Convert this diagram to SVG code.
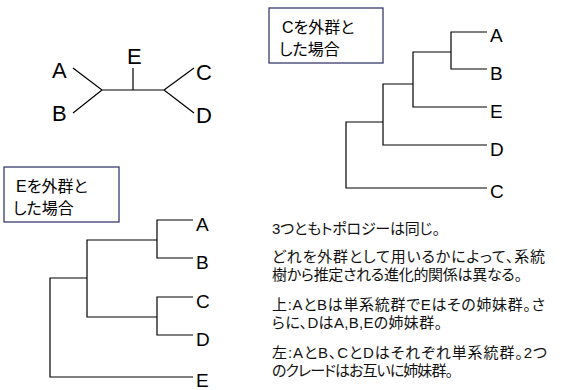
<svg xmlns="http://www.w3.org/2000/svg" width="566" height="390" viewBox="0 0 566 390">
<style>
.ln{stroke:#000;stroke-width:1.2;fill:none}
.lb{font-family:"Liberation Sans",Arial,sans-serif;fill:#000}
.big{font-size:22px}
.med{font-size:19px}
.box{fill:#fff;stroke:#3a3a6e;stroke-width:1.3}
.bt{font-family:"Liberation Sans","Noto Sans CJK JP",sans-serif;font-size:16px;fill:#000;font-feature-settings:"palt"}
.tx{font-family:"Liberation Sans","Noto Sans CJK JP",sans-serif;font-size:15px;fill:#111;font-feature-settings:"palt"}
</style>
<rect width="566" height="390" fill="#fff"/>
<g id="connectors">
<path class="ln" d="M73,68 L102,90 L73,113 M102,90 H164 M133,68 V90 M194,68 L164,90 L194,113"/>
<path class="ln" d="M487,32 H451 V69 H487 M451,52 H413 V107 H487 M413,84 H383 V145 H487 M383,122 H346 V188 H487"/>
<path class="ln" d="M193,220 H157 V258 H193 M193,297 H157 V335 H193 M157,240 H87 V317 H157 M87,278 H50 V377 H193"/>
</g>
<g id="unrooted-labels">
<text class="lb big" x="52" y="78">A</text>
<text class="lb big" x="52" y="121">B</text>
<text class="lb big" x="127" y="64">E</text>
<text class="lb big" x="196" y="80">C</text>
<text class="lb big" x="196" y="123">D</text>
</g>
<g id="box-c">
<rect class="box" x="269" y="8" width="114" height="55"/>
<text class="bt"><tspan x="282" y="33">Cを外群と</tspan><tspan x="279" y="55">した場合</tspan></text>
</g>
<g id="tree-c-labels">
<text class="lb med" x="490" y="42">A</text>
<text class="lb med" x="490" y="80">B</text>
<text class="lb med" x="490" y="118">E</text>
<text class="lb med" x="490" y="156">D</text>
<text class="lb med" x="490" y="198">C</text>
</g>
<g id="box-e">
<rect class="box" x="4" y="167" width="115" height="55"/>
<text class="bt"><tspan x="16" y="192">Eを外群と</tspan><tspan x="13" y="214">した場合</tspan></text>
</g>
<g id="tree-e-labels">
<text class="lb med" x="196" y="231">A</text>
<text class="lb med" x="196" y="269">B</text>
<text class="lb med" x="196" y="308">C</text>
<text class="lb med" x="196" y="346">D</text>
<text class="lb med" x="196" y="387">E</text>
</g>
<g id="notes">
<text class="tx" x="272" y="234" textLength="168" lengthAdjust="spacing">3つともトポロジーは同じ。</text>
<text class="tx"><tspan x="272" y="262" textLength="273" lengthAdjust="spacing">どれを外群として用いるかによって、系統</tspan><tspan x="272" y="280" textLength="250" lengthAdjust="spacing">樹から推定される進化的関係は異なる。</tspan></text>
<text class="tx"><tspan x="272" y="310" textLength="273" lengthAdjust="spacing">上:AとBは単系統群でEはその姉妹群。さ</tspan><tspan x="272" y="328" textLength="170" lengthAdjust="spacing">らに、DはA,B,Eの姉妹群。</tspan></text>
<text class="tx"><tspan x="272" y="358" textLength="275" lengthAdjust="spacing">左:AとB、CとDはそれぞれ単系統群。2つ</tspan><tspan x="272" y="376" textLength="181" lengthAdjust="spacing">のクレードはお互いに姉妹群。</tspan></text>
</g>
</svg>
